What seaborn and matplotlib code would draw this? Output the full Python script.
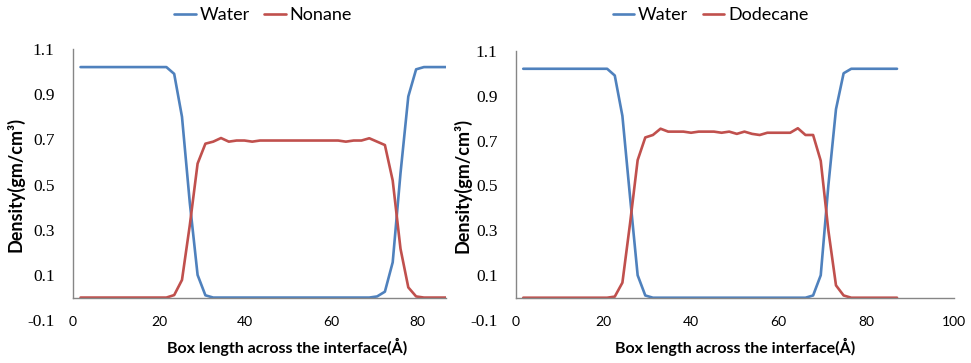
import numpy as np
import pandas as pd
import matplotlib
matplotlib.use('Agg')
import matplotlib.pyplot as plt
import seaborn as sns

sns.set_style('white')
plt.rcParams['font.family'] = ['Lato', 'DejaVu Sans']
for k in ['text.color', 'axes.labelcolor', 'xtick.labelcolor', 'ytick.labelcolor']:
    plt.rcParams[k] = 'black'

# nonane system, bins of ~1.81 A
x_nonane = [1.81 * i for i in range(1, 49)]
water_nonane = [1.02] * 12 + [0.99, 0.80, 0.42, 0.10, 0.01] + [0.0] * 21 + \
    [0.005, 0.026, 0.156, 0.55, 0.89, 1.01] + [1.02] * 4
nonane = [0.0] * 12 + [0.011, 0.078, 0.32, 0.593, 0.681, 0.69, 0.706, 0.69,
                       0.695, 0.695, 0.69, 0.695, 0.695, 0.695, 0.695, 0.695,
                       0.695, 0.695, 0.695, 0.695, 0.695, 0.695, 0.69, 0.695,
                       0.695, 0.705, 0.69, 0.675, 0.518, 0.216, 0.045, 0.005] + [0.0] * 4

# dodecane system, bins of ~1.74 A
x_dodecane = [1.74 * i for i in range(1, 51)]
water_dodecane = [1.02] * 12 + [0.99, 0.81, 0.45, 0.10, 0.01] + [0.0] * 21 + \
    [0.01, 0.10, 0.50, 0.84, 1.0] + [1.02] * 7
dodecane = [0.0] * 12 + [0.005, 0.067, 0.33, 0.613, 0.714, 0.725, 0.753,
                         0.74, 0.74, 0.74, 0.735, 0.74, 0.74, 0.74, 0.735, 0.74,
                         0.73, 0.74, 0.73, 0.725, 0.735, 0.735, 0.735, 0.735,
                         0.755, 0.725, 0.725, 0.61, 0.30, 0.055, 0.01] + [0.0] * 7

yticks = [-0.1, 0.1, 0.3, 0.5, 0.7, 0.9, 1.1]
blue = '#4F81BD'
red = '#C0504D'
grey = '#868686'

fig = plt.figure(figsize=(9.71, 3.63), dpi=100)
ax1 = fig.add_axes([0.0749, 0.118, 0.459 - 0.0749, 0.747])
ax2 = fig.add_axes([0.531, 0.118, 0.9825 - 0.531, 0.742])

# axis, x, water, oil, oil name, x max, x ticks, legend x, xlabel x, ylabel x
panels = [(ax1, x_nonane, water_nonane, nonane, 'Nonane', 86.5, [0, 20, 40, 60, 80], 0.271, 0.575, -0.128),
          (ax2, x_dodecane, water_dodecane, dodecane, 'Dodecane', 100, [0, 20, 40, 60, 80, 100], 0.7317, 0.5, -0.100)]

for ax, x, w, o, oname, xmax, xt, legx, xlx, ylx in panels:
    df = pd.DataFrame({'x': x, 'Water': w, oname: o})
    sns.lineplot(data=df, x='x', y='Water', ax=ax, color=blue, lw=1.9, label='Water')
    sns.lineplot(data=df, x='x', y=oname, ax=ax, color=red, lw=1.9, label=oname)
    ax.set_xlim(0, xmax)
    ax.set_ylim(-0.1, 1.1)
    ax.set_yticks(yticks)
    ax.set_yticklabels([f'{v:.1f}' for v in yticks], family='Liberation Serif', fontsize=12.5)
    ax.set_xticks(xt)
    ax.set_xticklabels([str(v) for v in xt], fontsize=13.5)
    for s in ['top', 'right']:
        ax.spines[s].set_visible(False)
    ax.spines['bottom'].set_position(('data', 0))
    ax.spines['left'].set_bounds(0, 1.1)
    for s in ['bottom', 'left']:
        ax.spines[s].set_color(grey)
        ax.spines[s].set_linewidth(1.0)
    ax.tick_params(axis='both', direction='out', length=5, color=grey, width=1.0)
    ax.tick_params(axis='y', pad=8)
    ax.tick_params(axis='x', pad=8)
    ax.yaxis.get_major_ticks()[0].tick1line.set_visible(False)
    ax.set_xlabel('Box length across the interface(Å)', fontsize=11.5, fontweight='bold')
    ax.set_ylabel('Density(gm/cm³)', fontsize=13, fontweight='bold')
    ax.xaxis.set_label_coords(xlx, -0.066)
    ax.yaxis.set_label_coords(ylx, 0.5)
    ax.legend_.remove()
    h, l = ax.get_legend_handles_labels()
    fig.legend(h, l, loc='center', bbox_to_anchor=(legx, 0.959), ncol=2, frameon=False,
               fontsize=13, handlelength=1.2, handletextpad=0.2, columnspacing=0.8)

fig.savefig('out.png', dpi=100)
